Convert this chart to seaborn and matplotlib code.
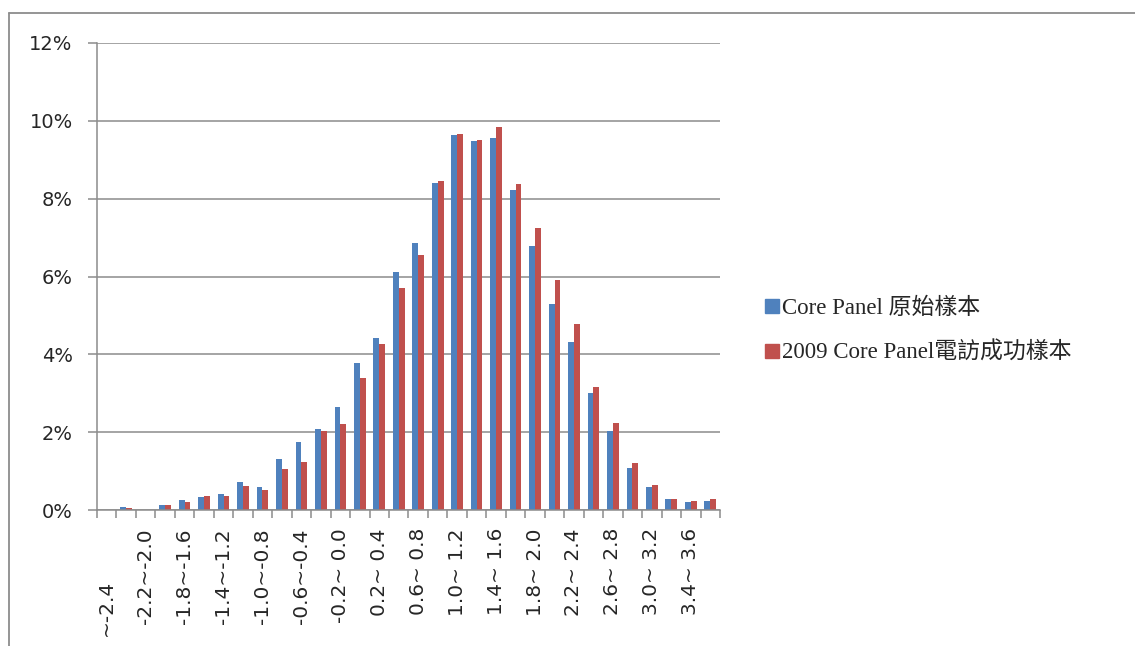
import numpy as np
import pandas as pd
import seaborn as sns
import matplotlib.pyplot as plt
from matplotlib.lines import Line2D
from matplotlib.ticker import PercentFormatter, MultipleLocator
from matplotlib.transforms import ScaledTranslation

# 데이터 (단위: %)
ranges = ['~-2.4', '-2.4~-2.2', '-2.2~-2.0', '-2.0~-1.8', '-1.8~-1.6', '-1.6~-1.4',
          '-1.4~-1.2', '-1.2~-1.0', '-1.0~-0.8', '-0.8~-0.6', '-0.6~-0.4', '-0.4~-0.2',
          '-0.2~ 0.0', '0.0~ 0.2', '0.2~ 0.4', '0.4~ 0.6', '0.6~ 0.8', '0.8~ 1.0',
          '1.0~ 1.2', '1.2~ 1.4', '1.4~ 1.6', '1.6~ 1.8', '1.8~ 2.0', '2.0~ 2.2',
          '2.2~ 2.4', '2.4~ 2.6', '2.6~ 2.8', '2.8~ 3.0', '3.0~ 3.2', '3.2~ 3.4',
          '3.4~ 3.6', '3.6~']
core_panel = [0.0, 0.07, 0.0, 0.14, 0.26, 0.33, 0.42, 0.72, 0.59, 1.31, 1.74, 2.08,
              2.64, 3.78, 4.42, 6.12, 6.86, 8.41, 9.64, 9.49, 9.56, 8.23, 6.79, 5.30,
              4.32, 3.00, 2.04, 1.07, 0.59, 0.28, 0.21, 0.24]
phone_2009 = [0.0, 0.04, 0.0, 0.14, 0.21, 0.37, 0.37, 0.62, 0.51, 1.05, 1.24, 2.02,
              2.21, 3.39, 4.27, 5.71, 6.56, 8.46, 9.67, 9.51, 9.85, 8.38, 7.25, 5.91,
              4.78, 3.16, 2.24, 1.22, 0.64, 0.27, 0.24, 0.27]
series_names = ['Core Panel 原始樣本', '2009 Core Panel電訪成功樣本']
colors = ['#4F81BD', '#C0504D']

df = pd.DataFrame({
    'range': ranges * 2,
    'pct': core_panel + phone_2009,
    'sample': [series_names[0]] * len(ranges) + [series_names[1]] * len(ranges),
})

sns.set_style('white')
plt.rcParams['font.family'] = ['DejaVu Sans']
grey = '#8c8c8c'

fig = plt.figure(figsize=(11.35, 6.46), dpi=100)
ax = fig.add_axes([97 / 1135, 136 / 646, 623 / 1135, 467 / 646])

sns.barplot(data=df, x='range', y='pct', hue='sample', order=ranges,
            hue_order=series_names, palette=colors, width=0.6, gap=0,
            linewidth=0, saturation=1, errorbar=None, legend=False, ax=ax)

ax.set_xlim(-0.5, len(ranges) - 0.5)
ax.set_ylim(0, 12)
ax.yaxis.set_major_locator(MultipleLocator(2))
ax.yaxis.set_major_formatter(PercentFormatter(decimals=0))
ax.set_xlabel('')
ax.set_ylabel('')

# 격자선과 축
ax.set_axisbelow(True)
ax.yaxis.grid(True, color=grey, linewidth=1.1)
for s in ['top', 'right']:
    ax.spines[s].set_visible(False)
for s in ['left', 'bottom']:
    ax.spines[s].set_color(grey)
    ax.spines[s].set_linewidth(1.1)

ax.tick_params(axis='y', length=6.5, width=1.1, color=grey, pad=11,
               labelsize=14, left=True)

# x축: 라벨은 두 칸마다, 눈금은 구간 경계에
ax.set_xticks(np.arange(0, len(ranges), 2))
ax.set_xticklabels(ranges[::2], rotation=90, ha='center', va='top')
ax.set_xticks(np.arange(-0.5, len(ranges), 1), minor=True)
ax.tick_params(axis='x', which='major', length=0, pad=13, labelsize=14.5)
ax.tick_params(axis='x', which='minor', length=6, width=1.1, color=grey, bottom=True)

lbl = ax.get_xticklabels()[0]
lbl.set_transform(lbl.get_transform() + ScaledTranslation(0, -0.52, fig.dpi_scale_trans))

# 범례
handles = [Line2D([], [], marker='s', linestyle='', markersize=9.5,
                  markerfacecolor=c, markeredgecolor=c) for c in colors]
fig.legend(handles, series_names, loc='center left',
           bbox_to_anchor=(754 / 1135, 1 - 331 / 646), frameon=False,
           handlelength=0.6, handletextpad=0.1, labelspacing=1.0, borderpad=0,
           prop={'family': ['Liberation Serif', 'Noto Sans CJK TC'], 'size': 16.5})

# 차트 테두리 (위, 왼쪽)
fig.add_artist(Line2D([8.5 / 1135, 1], [1 - 12.5 / 646, 1 - 12.5 / 646],
                      transform=fig.transFigure, color=grey, linewidth=1.3))
fig.add_artist(Line2D([8.5 / 1135, 8.5 / 1135], [0, 1 - 12.5 / 646],
                      transform=fig.transFigure, color=grey, linewidth=1.3))

fig.savefig('out.png', dpi=100)
